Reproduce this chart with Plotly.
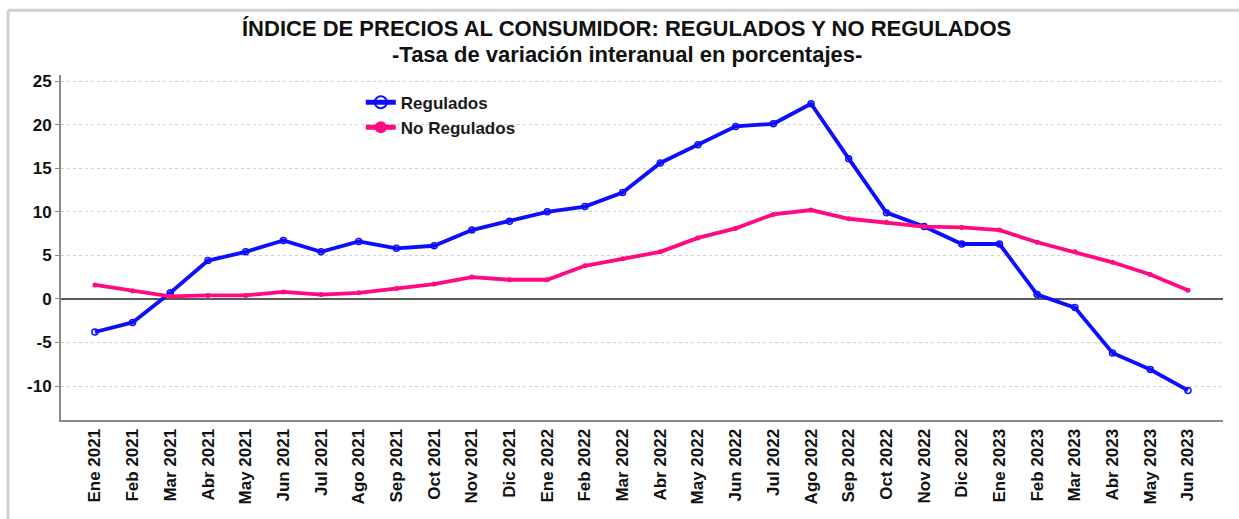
import plotly.graph_objects as go

# Meses del periodo
meses = [
    "Ene 2021", "Feb 2021", "Mar 2021", "Abr 2021", "May 2021", "Jun 2021",
    "Jul 2021", "Ago 2021", "Sep 2021", "Oct 2021", "Nov 2021", "Dic 2021",
    "Ene 2022", "Feb 2022", "Mar 2022", "Abr 2022", "May 2022", "Jun 2022",
    "Jul 2022", "Ago 2022", "Sep 2022", "Oct 2022", "Nov 2022", "Dic 2022",
    "Ene 2023", "Feb 2023", "Mar 2023", "Abr 2023", "May 2023", "Jun 2023",
]

# Tasa de variación interanual (%)
regulados = [
    -3.8, -2.7, 0.7, 4.4, 5.4, 6.7, 5.4, 6.6, 5.8, 6.1, 7.9, 8.9,
    10.0, 10.6, 12.2, 15.6, 17.7, 19.8, 20.1, 22.4, 16.1, 9.9, 8.3, 6.3,
    6.3, 0.5, -1.0, -6.2, -8.1, -10.5,
]
no_regulados = [
    1.6, 0.9, 0.3, 0.4, 0.4, 0.8, 0.5, 0.7, 1.2, 1.7, 2.5, 2.2,
    2.2, 3.8, 4.6, 5.4, 7.0, 8.1, 9.7, 10.2, 9.2, 8.8, 8.3, 8.2,
    7.9, 6.5, 5.4, 4.2, 2.8, 1.0,
]

y_ticks = [-10, -5, 0, 5, 10, 15, 20, 25]
y_tick_text = ["-10", "-5", "0", "5", "10", "15", "20", "25"]

BLUE = "#0d0dff"
PINK = "#ff0a80"

fig = go.Figure()
fig.add_trace(go.Scatter(
    x=meses, y=regulados, name="Regulados", mode="lines+markers",
    line=dict(color=BLUE, width=3.8),
    marker=dict(symbol="circle-open", size=6, color=BLUE, line=dict(width=1.5)),
))
fig.add_trace(go.Scatter(
    x=meses, y=no_regulados, name="No Regulados", mode="lines+markers",
    line=dict(color=PINK, width=3.8),
    marker=dict(symbol="circle", size=5, color=PINK),
))

font_family = "Liberation Sans, Arial, sans-serif"

fig.update_layout(
    width=1239, height=519,
    margin=dict(l=61, r=16, t=75, b=99),
    paper_bgcolor="white", plot_bgcolor="white",
    font=dict(family=font_family, color="#111111"),
    showlegend=True,
    legend=dict(
        x=0.258, y=0.972, xanchor="left", yanchor="top",
        bgcolor="rgba(0,0,0,0)", itemsizing="constant",
        font=dict(size=17, family=font_family, weight="bold", color="#1a1a1a"),
        tracegroupgap=0,
    ),
    xaxis=dict(
        type="category", range=[-0.9, 29.93],
        tickangle=-90, ticks="", showgrid=False,
        showline=True, linecolor="#8a8a8a", linewidth=2,
        tickfont=dict(size=17, family=font_family, weight="bold", color="#111111"),
        zeroline=False,
    ),
    yaxis=dict(
        range=[-13.9, 25.7], tickvals=y_ticks, ticktext=y_tick_text,
        showgrid=True, gridcolor="#cfcfcf", gridwidth=1, griddash="3px,3px",
        zeroline=True, zerolinecolor="#5a5a5a", zerolinewidth=2,
        showline=True, linecolor="#8a8a8a", linewidth=2,
        ticks="outside", ticklen=4, tickcolor="#8a8a8a", tickwidth=1,
        tickfont=dict(size=17, family=font_family, weight="bold", color="#111111"),
    ),
    annotations=[
        dict(text="ÍNDICE DE PRECIOS AL CONSUMIDOR: REGULADOS Y NO REGULADOS",
             x=0.487, y=1.135, xref="paper", yref="paper", xanchor="center", yanchor="middle",
             showarrow=False, font=dict(size=22, family=font_family, weight="bold", color="#111111")),
        dict(text="-Tasa de variación interanual en porcentajes-",
             x=0.487, y=1.06, xref="paper", yref="paper", xanchor="center", yanchor="middle",
             showarrow=False, font=dict(size=22, family=font_family, weight="bold", color="#111111")),
    ],
    shapes=[
        # marco exterior
        dict(type="line", xref="paper", yref="paper", x0=-0.0456, x1=1.02, y0=1.188, y1=1.188,
             line=dict(color="#d0d0d0", width=3)),
        dict(type="line", xref="paper", yref="paper", x0=-0.0456, x1=-0.0456, y0=1.188, y1=-0.3,
             line=dict(color="#d0d0d0", width=3)),
    ],
)

fig.write_html("out.html")
